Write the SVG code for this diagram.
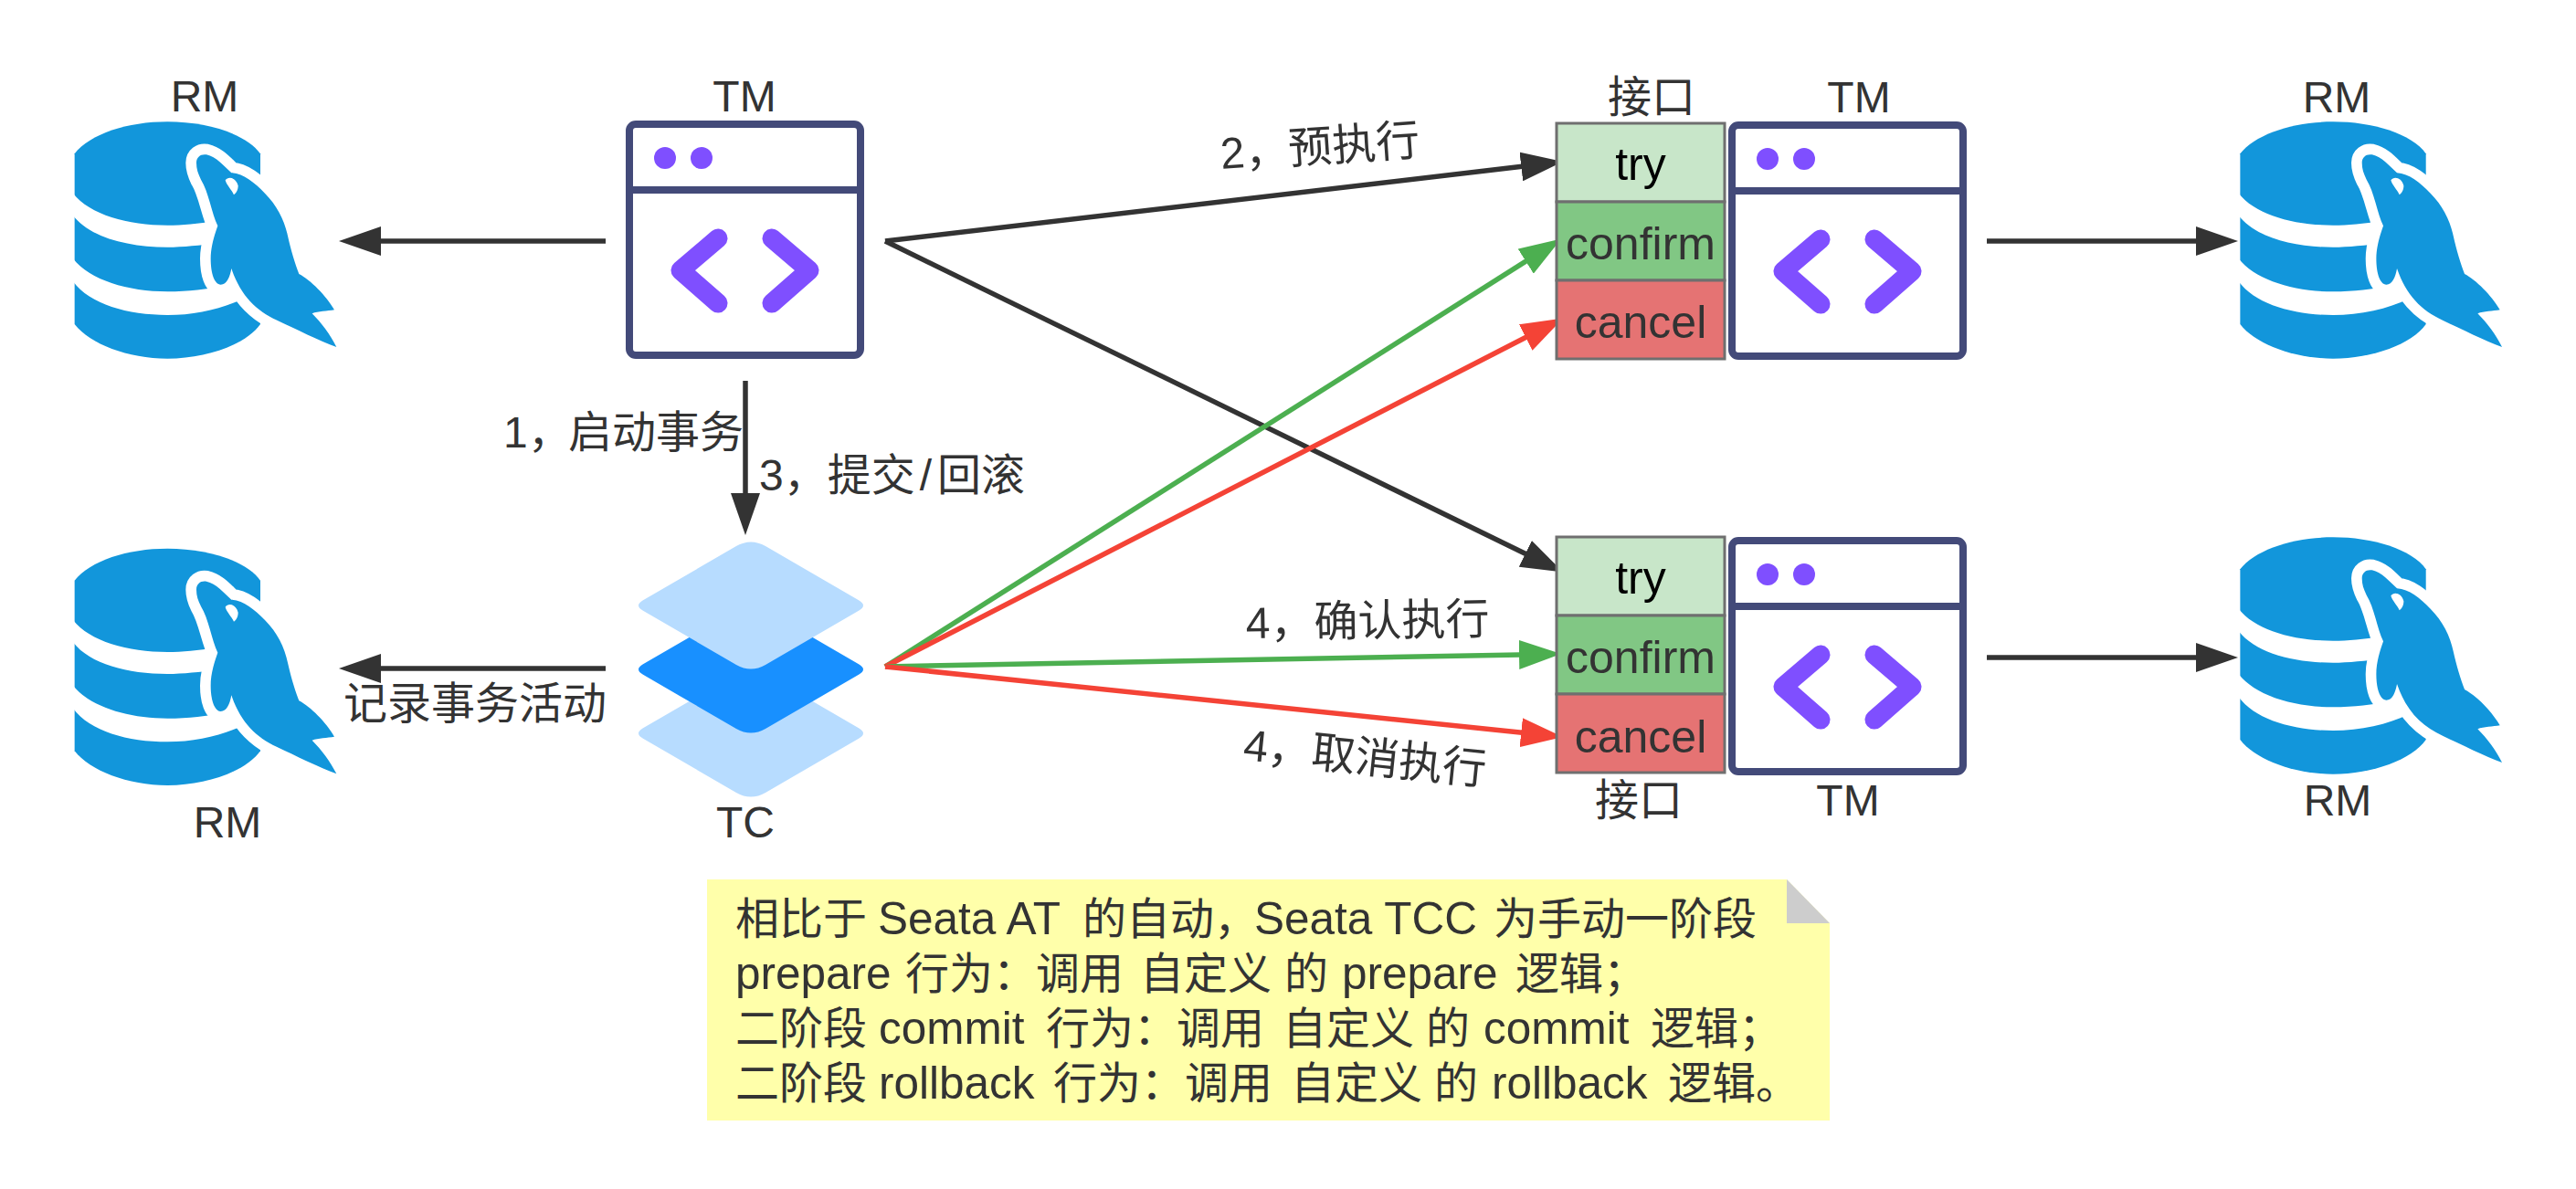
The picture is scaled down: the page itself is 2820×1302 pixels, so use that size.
<svg xmlns="http://www.w3.org/2000/svg" xmlns:xlink="http://www.w3.org/1999/xlink" width="2820" height="1302" viewBox="0 0 2820 1302">
<style>
text{font-family:"Liberation Sans","Noto Sans CJK SC",sans-serif;font-size:48px;fill:#333}
.mid{text-anchor:middle}
.op{font-size:50px}
.lat{font-size:49.5px}
.blk{fill:#000}
.cell{stroke:#6f6f6f;stroke-width:3}
.ln{fill:none;stroke-width:5.5}
.dark{stroke:#333}.green{stroke:#4caf50}.red{stroke:#f44336}
.light{fill:#b7dcff}.deep{fill:#1890ff}
.frame{fill:#fff;stroke:#434a79;stroke-width:8}
.div{stroke:#434a79;stroke-width:8}
.dot{fill:#7f4fff}
.chev{fill:none;stroke:#7f4fff;stroke-width:21;stroke-linecap:round;stroke-linejoin:round}
</style>
<defs>
<marker id="aD" markerUnits="userSpaceOnUse" markerWidth="48" markerHeight="32" viewBox="0 0 48 32" refX="1" refY="16" orient="auto"><path d="M0,0L46,16L0,32Z" fill="#333"/></marker>
<marker id="aG" markerUnits="userSpaceOnUse" markerWidth="48" markerHeight="32" viewBox="0 0 48 32" refX="1" refY="16" orient="auto"><path d="M0,0L46,16L0,32Z" fill="#4caf50"/></marker>
<marker id="aR" markerUnits="userSpaceOnUse" markerWidth="48" markerHeight="32" viewBox="0 0 48 32" refX="1" refY="16" orient="auto"><path d="M0,0L46,16L0,32Z" fill="#f44336"/></marker>
<g id="db" transform="translate(40 110) scale(.33333)">
<path fill="#1296db" d="M125,175C175,110 300,70 430,70C560,70 690,110 735,175L735,735C690,800 560,848 430,848C300,848 175,800 125,735Z"/>
<path fill="#fff" d="M120,305C175,375 300,410 430,410C480,410 530,405 590,395L590,470C540,475 480,482 430,482C300,482 175,450 120,378Z"/>
<path fill="#fff" d="M120,520C175,590 300,628 430,628C500,628 560,620 620,610L680,650C610,685 520,705 430,705C300,705 175,670 120,595Z"/>
<path id="seal" fill="#1296db" stroke="#fff" stroke-width="70" stroke-linejoin="round" paint-order="stroke" d="M525,205C525,185 540,175 558,178C590,185 615,215 640,238C680,240 715,270 750,305C790,345 815,395 825,445C835,490 850,540 862,570C900,590 950,640 978,688C955,692 925,692 905,700C935,730 965,770 985,810C930,790 850,750 790,722C720,690 670,640 640,552C635,580 625,605 605,605C585,605 572,570 572,520C572,480 585,440 595,412C575,370 565,300 540,260C530,240 525,225 525,205Z"/>
<path fill="#fff" d="M620,262C630,248 655,253 662,280C662,295 655,305 648,310C640,292 625,280 620,262Z"/>
</g>
<g id="win">
<rect class="frame" x="4" y="4" width="253" height="253" rx="7"/>
<path class="div" d="M4,76H257"/>
<circle class="dot" cx="43" cy="41" r="12"/><circle class="dot" cx="83" cy="41" r="12"/>
<path class="chev" d="M101,129L60,164L101,200"/><path class="chev" d="M160,129L201,164L160,200"/>
</g>
<path id="layer" d="M-118,-5.8L-16,-65Q0,-74 16,-65L118,-5.8Q128,0 118,5.8L16,65Q0,74 -16,65L-118,5.8Q-128,0 -118,-5.8Z"/>
</defs>
<rect width="2820" height="1302" fill="#fff"/>

<g id="connectors">
<path class="ln dark" marker-end="url(#aD)" d="M663,264H416"/>
<path class="ln dark" marker-end="url(#aD)" d="M816,417V541"/>
<path class="ln dark" marker-end="url(#aD)" d="M663,732H416"/>
<path class="ln dark" marker-end="url(#aD)" d="M969,264L1666.3,182.3"/>
<path class="ln dark" marker-end="url(#aD)" d="M969,264L1670.7,606.8"/>
<path class="ln green" marker-end="url(#aG)" d="M969,730L1671.1,285.6"/>
<path class="ln red" marker-end="url(#aR)" d="M969,730L1671.1,369"/>
<path class="ln green" marker-end="url(#aG)" d="M969,730L1664,716.9"/>
<path class="ln red" marker-end="url(#aR)" d="M969,730L1666.2,802.3"/>
<path class="ln dark" marker-end="url(#aD)" d="M2175,264H2405"/>
<path class="ln dark" marker-end="url(#aD)" d="M2175,720H2405"/>
</g>

<g id="rm-top-left"><use href="#db"/><text class="mid" x="224" y="122">RM</text></g>
<g id="rm-bottom-left"><use href="#db" transform="translate(0 467.3)"/><text class="mid" x="249" y="917">RM</text></g>
<g id="rm-top-right"><use href="#db" transform="translate(2370.7 0)"/><text class="mid" x="2558" y="123">RM</text></g>
<g id="rm-bottom-right"><use href="#db" transform="translate(2370.7 455)"/><text class="mid" x="2559" y="893">RM</text></g>

<g id="tm-left"><use href="#win" transform="translate(685 132)"/><text class="mid" x="815" y="122">TM</text></g>
<g id="tm-top-right"><use href="#win" transform="translate(1892 133)"/><text class="mid" x="2035" y="123">TM</text></g>
<g id="tm-bottom-right"><use href="#win" transform="translate(1892 588)"/><text class="mid" x="2023" y="893">TM</text></g>

<g id="tc">
<use href="#layer" class="light" transform="translate(822 803)"/>
<use href="#layer" class="deep" transform="translate(822 733)"/>
<use href="#layer" class="light" transform="translate(822 663)"/>
<text class="mid" x="816" y="917">TC</text>
</g>

<g id="iface-top">
<rect class="cell" x="1704" y="135" width="184" height="86" fill="#c8e6c9"/>
<rect class="cell" x="1704" y="221" width="184" height="86" fill="#81c784"/>
<rect class="cell" x="1704" y="307" width="184" height="86" fill="#e57373"/>
<text class="mid op blk" x="1796" y="197">try</text>
<text class="mid op" x="1796" y="284">confirm</text>
<text class="mid op" x="1796" y="370">cancel</text>
<text class="mid" x="1808" y="123">接口</text>
</g>
<g id="iface-bottom">
<rect class="cell" x="1704" y="588" width="184" height="86" fill="#c8e6c9"/>
<rect class="cell" x="1704" y="674" width="184" height="86" fill="#81c784"/>
<rect class="cell" x="1704" y="760" width="184" height="86" fill="#e57373"/>
<text class="mid op blk" x="1796" y="650">try</text>
<text class="mid op" x="1796" y="737">confirm</text>
<text class="mid op" x="1796" y="824">cancel</text>
<text class="mid" x="1794" y="893">接口</text>
</g>

<g id="edge-labels">
<text x="551" y="490">1，<tspan x="622">启动事务</tspan></text>
<text x="831" y="537">3，提交<tspan dx="5">/</tspan><tspan dx="6">回滚</tspan></text>
<text x="376" y="787">记录事务活动</text>
<text transform="translate(1337 185) rotate(-4)">2，预执行</text>
<text transform="translate(1364 699) rotate(-1)">4，确认执行</text>
<text transform="translate(1360 832) rotate(5.9)">4，取消执行</text>
</g>

<g id="note">
<path fill="#ffffaa" d="M774,963H1956L2003,1011V1227H774Z"/>
<path fill="#cdcdcd" d="M1956,963L2003,1011H1956Z"/>
<text x="805" y="1023">相比于 <tspan class="lat" x="961">Seata AT </tspan><tspan x="1185">的自动，</tspan><tspan class="lat" x="1373">Seata TCC </tspan><tspan x="1635">为手动一阶段</tspan></text>
<text y="1083"><tspan class="lat" x="805">prepare </tspan><tspan x="991">行为：</tspan><tspan x="1134">调用 </tspan><tspan x="1248">自定义 </tspan><tspan x="1406">的 </tspan><tspan class="lat" x="1469">prepare </tspan><tspan x="1659">逻辑；</tspan></text>
<text y="1143"><tspan x="805">二阶段 </tspan><tspan class="lat" x="962">commit </tspan><tspan x="1145">行为：</tspan><tspan x="1288">调用 </tspan><tspan x="1404">自定义 </tspan><tspan x="1561">的 </tspan><tspan class="lat" x="1624">commit </tspan><tspan x="1807">逻辑；</tspan></text>
<text y="1203"><tspan x="805">二阶段 </tspan><tspan class="lat" x="962">rollback </tspan><tspan x="1153">行为：</tspan><tspan x="1297">调用 </tspan><tspan x="1413">自定义 </tspan><tspan x="1570">的 </tspan><tspan class="lat" x="1633">rollback </tspan><tspan x="1826">逻辑。</tspan></text>
</g>
</svg>
